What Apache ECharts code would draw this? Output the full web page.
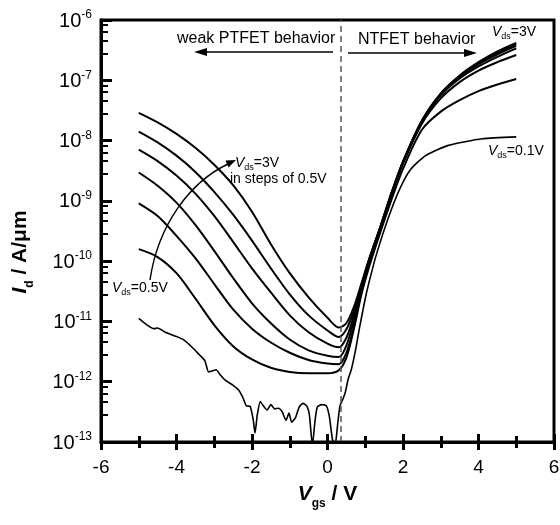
<!DOCTYPE html>
<html><head><meta charset="utf-8">
<script src="https://cdn.jsdelivr.net/npm/echarts@6/dist/echarts.min.js"></script>
<style>html,body{margin:0;padding:0;background:#fff}#c{width:560px;height:525px}</style>
</head><body><div id="c"></div>
<script>
// Gate voltage grid (V) for the smooth curves
const vgs = [-5,-4.5,-4,-3.5,-3,-2.5,-2,-1.5,-1,-0.5,0,0.3,0.5,0.7,0.9,1.1,1.4,1.7,2,2.5,3,3.5,4,4.5,5];
// Drain current (A/um) for Vds = 3.0 ... 0.5 V
const id30 = [2.88e-8,2.00e-8,1.29e-8,7.59e-9,3.98e-9,1.82e-9,6.61e-10,1.91e-10,6.31e-11,2.51e-11,1.15e-11,7.94e-12,9.33e-12,1.74e-11,4.27e-11,1.07e-10,3.72e-10,1.38e-9,4.47e-9,2.14e-8,6.03e-8,1.20e-7,2.00e-7,3.02e-7,4.17e-7];
const id25 = [1.41e-8,9.33e-9,5.62e-9,3.02e-9,1.41e-9,5.89e-10,2.19e-10,7.59e-11,2.82e-11,1.26e-11,7.08e-12,5.50e-12,7.41e-12,1.48e-11,3.98e-11,1.05e-10,3.72e-10,1.38e-9,4.47e-9,2.14e-8,6.03e-8,1.17e-7,1.91e-7,2.82e-7,3.98e-7];
const id20 = [7.08e-9,4.57e-9,2.63e-9,1.32e-9,5.62e-10,2.09e-10,7.59e-11,3.02e-11,1.26e-11,6.61e-12,4.27e-12,3.72e-12,5.37e-12,1.26e-11,3.72e-11,1.02e-10,3.63e-10,1.35e-9,4.37e-9,2.09e-8,5.89e-8,1.15e-7,1.86e-7,2.69e-7,3.72e-7];
const id15 = [2.95e-9,1.78e-9,9.33e-10,3.98e-10,1.48e-10,5.25e-11,2.00e-11,9.33e-12,5.01e-12,3.31e-12,2.69e-12,2.57e-12,3.98e-12,1.05e-11,3.47e-11,1.00e-10,3.55e-10,1.32e-9,4.27e-9,2.04e-8,5.62e-8,1.07e-7,1.70e-7,2.45e-7,3.39e-7];
const id10 = [9.12e-10,5.62e-10,2.63e-10,1.12e-10,4.17e-11,1.58e-11,7.59e-12,4.47e-12,3.02e-12,2.29e-12,2.00e-12,1.95e-12,3.02e-12,8.32e-12,3.16e-11,9.33e-11,3.39e-10,1.26e-9,4.17e-9,1.91e-8,5.01e-8,9.33e-8,1.45e-7,2.00e-7,2.63e-7];
const id05 = [1.58e-10,1.17e-10,6.31e-11,2.40e-11,8.71e-12,3.89e-12,2.34e-12,1.70e-12,1.45e-12,1.38e-12,1.38e-12,1.55e-12,2.51e-12,7.59e-12,2.82e-11,7.94e-11,3.02e-10,1.07e-9,3.39e-9,1.51e-8,3.02e-8,4.68e-8,6.61e-8,8.51e-8,1.05e-7];
// Vds = 0.1 V (noisy measurement)
const vgs01 = [-5,-4.8,-4.6,-4.5,-4.3,-4,-3.8,-3.6,-3.4,-3.25,-3.15,-3.05,-2.95,-2.85,-2.7,-2.5,-2.35,-2.25,-2.15,-2.05,-1.97,-1.92,-1.86,-1.78,-1.7,-1.6,-1.5,-1.4,-1.3,-1.2,-1.1,-1.02,-0.95,-0.85,-0.75,-0.65,-0.55,-0.48,-0.4,-0.33,-0.27,-0.15,-0.03,0.05,0.13,0.2,0.27,0.33,0.4,0.47,0.55,0.63,0.75,0.85,1.0,1.1,1.3,1.6,1.9,2.2,2.6,3.2,4.1,5.0];
const id01 = [1.12e-11,8.91e-12,7.59e-12,7.76e-12,6.61e-12,5.62e-12,4.90e-12,3.80e-12,2.82e-12,2.24e-12,1.45e-12,1.51e-12,1.58e-12,1.32e-12,1.05e-12,8.71e-13,7.24e-13,5.62e-13,3.98e-13,3.89e-13,2.40e-13,1.41e-13,2.82e-13,4.68e-13,3.98e-13,3.39e-13,4.17e-13,3.55e-13,3.63e-13,3.16e-13,2.29e-13,3.02e-13,2.14e-13,2.51e-13,3.80e-13,4.37e-13,3.98e-13,2.82e-13,8.9e-14,2.24e-13,3.80e-13,4.17e-13,3.98e-13,2.63e-13,1.12e-13,8.9e-14,2.00e-13,3.98e-13,5.01e-13,6.61e-13,1.12e-12,1.58e-12,3.55e-12,7.94e-12,2.40e-11,4.47e-11,1.32e-10,5.01e-10,1.51e-9,3.31e-9,5.62e-9,8.32e-9,1.07e-8,1.15e-8];
const dividerVgs = 0.35;
// Axis ranges
const yMin = 1e-13, yMax = 1e-6;
const xMin = -6, xMax = 6;

const FF = '"Liberation Sans", Arial, sans-serif';
const chart = echarts.init(document.getElementById('c'), null, {renderer: 'canvas'});
function pairs(xs, ys){ return xs.map(function(x,i){ return [x, ys[i]]; }); }
const curveSeries = [id30,id25,id20,id15,id10,id05].map(function(arr){
  return {type:'line', data: pairs(vgs, arr), showSymbol:false, smooth:0.3,
    lineStyle:{color:'#000', width:2}, silent:true, z:3};
});
const sub = function(fs, pad){ return {fontFamily:FF, fontSize:fs, lineHeight:fs, padding:[pad,0,0,0], verticalAlign:'top', fill:'#000', color:'#000'}; };
const txt = function(fs, italic){ return {fontFamily:FF, fontSize:fs, lineHeight:fs, verticalAlign:'top', fontStyle: italic ? 'italic' : 'normal', fill:'#000', color:'#000'}; };
const annRich = {v: txt(14,true), n: txt(14,false), s: sub(9,7)};

const annotations = [
  {type:'text', x:177, y:31, z:100, style:{text:'weak PTFET behavior', font:'16px ' + FF, fill:'#000'}},
  {type:'line', z:100, shape:{x1:333, y1:52, x2:203, y2:52}, style:{stroke:'#000', lineWidth:1.5}},
  {type:'polygon', z:100, shape:{points:[[194,52],[207,48],[207,56]]}, style:{fill:'#000'}},
  {type:'text', x:358, y:32, z:100, style:{text:'NTFET behavior', font:'16px ' + FF, fill:'#000'}},
  {type:'line', z:100, shape:{x1:348, y1:53, x2:466, y2:53}, style:{stroke:'#000', lineWidth:1.5}},
  {type:'polygon', z:100, shape:{points:[[477,53],[464,49],[464,57]]}, style:{fill:'#000'}},
  {type:'text', x:492, y:25, z:100, style:{text:'{v|V}{s|ds}{n|=3V}', rich:annRich}},
  {type:'text', x:488, y:144, z:100, style:{text:'{v|V}{s|ds}{n|=0.1V}', rich:annRich}},
  {type:'text', x:235, y:156, z:100, style:{text:'{v|V}{s|ds}{n|=3V}', rich:annRich}},
  {type:'text', x:230, y:172, z:100, style:{text:'in steps of 0.5V', font:'14px ' + FF, fill:'#000'}},
  {type:'text', x:112, y:281, z:100, style:{text:'{v|V}{s|ds}{n|=0.5V}', rich:annRich}},
  {type:'bezierCurve', z:100, shape:{x1:150, y1:280, cpx1:158, cpy1:225, cpx2:190, cpy2:182, x2:228, y2:164}, style:{stroke:'#000', lineWidth:1.4, fill:null}},
  {type:'polygon', z:100, shape:{points:[[236,160],[225.5,160.5],[228.5,167.5]]}, style:{fill:'#000'}}
];

const nameRich = {
  v:{fontFamily:FF, fontSize:21, fontWeight:'bold', fontStyle:'italic', lineHeight:21, verticalAlign:'top', color:'#000'},
  s:{fontFamily:FF, fontSize:12, fontWeight:'bold', lineHeight:12, padding:[14,0,0,0], verticalAlign:'top', color:'#000'},
  n:{fontFamily:FF, fontSize:21, fontWeight:'bold', lineHeight:21, verticalAlign:'top', color:'#000'}
};

const option = {
  animation:false,
  backgroundColor:'#fff',
  grid:{left:101, right:6, top:20, bottom:83, show:true, borderColor:'#000', borderWidth:3, outerBoundsMode:'none'},
  xAxis:[{
    type:'value', min:xMin, max:xMax, interval:2, position:'bottom', z:10,
    axisLine:{onZero:false, lineStyle:{color:'#000', width:3}},
    axisTick:{show:true, inside:false, length:8, lineStyle:{color:'#000', width:3}},
    minorTick:{show:true, splitNumber:2, length:6, lineStyle:{color:'#000', width:3}},
    axisLabel:{fontFamily:FF, fontSize:19, color:'#000', margin:16},
    splitLine:{show:false},
    name:'{v|V}{s|gs}{n| / V}', nameLocation:'middle', nameGap:42,
    nameTextStyle:{rich:nameRich}
  },{
    type:'value', min:xMin, max:xMax, interval:2, position:'bottom', z:10,
    axisLine:{show:false, onZero:false},
    axisTick:{show:true, inside:true, length:8, lineStyle:{color:'#000', width:3}},
    minorTick:{show:true, splitNumber:2, length:6, lineStyle:{color:'#000', width:3}},
    axisLabel:{show:false}, splitLine:{show:false}
  }],
  yAxis:{
    type:'log', logBase:10, min:yMin, max:yMax, splitNumber:7, position:'left', z:10,
    axisLine:{show:true, onZero:false, lineStyle:{color:'#000', width:3}},
    axisTick:{show:true, inside:true, length:11, lineStyle:{color:'#000', width:3}},
    minorTick:{show:true, length:7, lineStyle:{color:'#000', width:2}},
    axisLabel:{margin:9, formatter:function(v){ return '{b|10}{s|' + Math.round(Math.log10(v)) + '}'; },
      rich:{b:{fontFamily:FF, fontSize:20, lineHeight:22, verticalAlign:'bottom', color:'#000'},
            s:{fontFamily:FF, fontSize:12, lineHeight:10, verticalAlign:'top', color:'#000'}}},
    splitLine:{show:false},
    name:'{v|I}{s|d}{n| / A/μm}', nameLocation:'middle', nameRotate:90, nameGap:70,
    nameTextStyle:{padding:[0,42,0,0], rich:nameRich}
  },
  series: curveSeries.concat([{
    type:'line', data: pairs(vgs01, id01), showSymbol:false, smooth:0.2,
    lineStyle:{color:'#000', width:1.6}, silent:true, z:3,
    markLine:{silent:true, symbol:'none', label:{show:false},
      lineStyle:{color:'#555', type:[6,4], width:1.5},
      data:[{xAxis: dividerVgs}]}
  }]),
  graphic: annotations
};
chart.setOption(option);
</script></body></html>
